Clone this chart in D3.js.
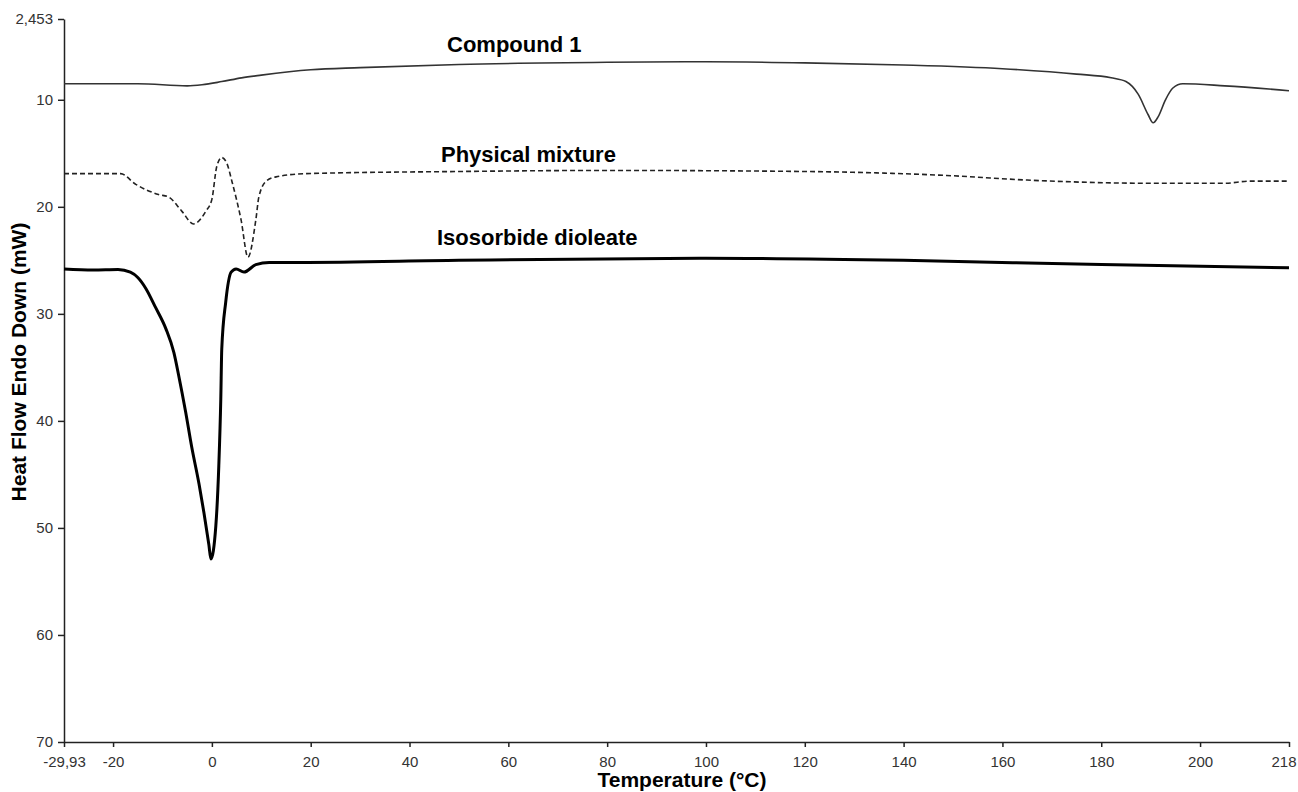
<!DOCTYPE html>
<html>
<head>
<meta charset="utf-8">
<script src="https://cdn.jsdelivr.net/npm/d3@7"></script>
<style>
  body { margin: 0; background: #fff; }
  .tick text { font-family: Arial, "Liberation Sans", sans-serif; fill: #333; }
  .title { font-family: Arial, "Liberation Sans", sans-serif; font-weight: bold; fill: #000; }
</style>
</head>
<body>
<div id="chart"></div>
<script>
// DSC traces, temperature (°C) vs heat flow (mW)
var compoundT = [-29.93, -15, -5, -2, 2, 6, 10, 20, 30, 50, 80, 100, 120, 140, 160, 175, 182, 185, 187.5, 189.5, 190.5, 191.5, 193, 194.5, 196.5, 205, 218];
var compoundV = [8.5, 8.5, 8.7, 8.6, 8.3, 7.95, 7.7, 7.2, 7.0, 6.7, 6.5, 6.45, 6.55, 6.75, 7.1, 7.6, 7.95, 8.3, 9.5, 11.4, 12.15, 11.6, 10.0, 8.9, 8.5, 8.7, 9.15];

var mixtureT = [-29.93, -18.5, -15.4, -10.8, -8.7, -6.1, -3.7, -1.2, 0, 1, 2, 3, 4.1, 5.9, 7.3, 8.9, 9.5, 11, 13, 19, 50, 80, 120, 150, 165, 190, 205, 210, 218];
var mixtureV = [16.9, 16.9, 17.9, 18.85, 19.1, 20.4, 21.6, 20.4, 19.3, 16.2, 15.4, 15.9, 17.7, 21.2, 24.7, 21.2, 19.1, 17.6, 17.2, 16.9, 16.7, 16.6, 16.7, 17.1, 17.5, 17.8, 17.8, 17.6, 17.6];

var dioleateT = [-29.93, -24, -19, -16.5, -15, -13.4, -11.4, -9.3, -7.7, -6.7, -5.3, -4.1, -2.6, -1.6, -0.6, -0.2, 0.8, 1.4, 1.8, 2.0, 2.8, 3.9, 4.9, 6.5, 8.9, 11.6, 17.6, 50, 100, 140, 180, 218];
var dioleateV = [25.8, 25.9, 25.85, 26.1, 26.6, 27.6, 29.4, 31.4, 33.6, 35.8, 39.2, 42.4, 45.9, 48.6, 51.6, 52.9, 49.8, 44.2, 38.0, 33.3, 28.9, 26.1, 25.8, 26.1, 25.4, 25.2, 25.2, 25.0, 24.8, 25.0, 25.4, 25.7];

var xTicks = [-29.93, -20, 0, 20, 40, 60, 80, 100, 120, 140, 160, 180, 200, 218];
var yTicks = [2.453, 10, 20, 30, 40, 50, 60, 70];

var seriesNames = ["Compound 1", "Physical mixture", "Isosorbide dioleate"];

var width = 1298, height = 792;

var svg = d3.select("#chart").append("svg")
    .attr("width", width)
    .attr("height", height);

var x = d3.scaleLinear().domain([-29.93, 218]).range([64, 1289]);
var y = d3.scaleLinear().domain([2.453, 70]).range([19, 742]);

var fmt = function(d) { return String(d).replace(".", ","); };

// x axis
svg.append("g")
    .attr("transform", "translate(0," + y(70) + ")")
    .call(d3.axisBottom(x).tickValues(xTicks).tickSize(5).tickSizeOuter(0).tickFormat(fmt))
    .call(function(g) {
      g.select(".domain").attr("stroke", "#222").attr("stroke-width", 1.5);
      g.selectAll(".tick line").attr("stroke", "#222").attr("stroke-width", 1.5);
      g.selectAll(".tick text").attr("font-size", 15).attr("dy", "0.95em").attr("y", 11);
      // keep the last label inside the page
      g.selectAll(".tick text").filter(function(d) { return d === 218; })
          .attr("text-anchor", "end").attr("dx", 7);
    });

// y axis
svg.append("g")
    .attr("transform", "translate(" + x(-29.93) + ",0)")
    .call(d3.axisLeft(y).tickValues(yTicks).tickSize(6).tickSizeOuter(0).tickFormat(fmt))
    .call(function(g) {
      g.select(".domain").attr("stroke", "#222").attr("stroke-width", 1.5);
      g.selectAll(".tick line").attr("stroke", "#222").attr("stroke-width", 1.5);
      g.selectAll(".tick text").attr("font-size", 15).attr("x", -11);
    });

var line = d3.line()
    .x(function(d) { return x(d[0]); })
    .y(function(d) { return y(d[1]); })
    .curve(d3.curveMonotoneX);

function pairs(ts, vs) { return ts.map(function(t, i) { return [t, vs[i]]; }); }

svg.append("path")
    .datum(pairs(compoundT, compoundV))
    .attr("fill", "none")
    .attr("stroke", "#333")
    .attr("stroke-width", 1.6)
    .attr("d", line);

svg.append("path")
    .datum(pairs(mixtureT, mixtureV))
    .attr("fill", "none")
    .attr("stroke", "#222")
    .attr("stroke-width", 1.6)
    .attr("stroke-dasharray", "5,3")
    .attr("d", line);

svg.append("path")
    .datum(pairs(dioleateT, dioleateV))
    .attr("fill", "none")
    .attr("stroke", "#000")
    .attr("stroke-width", 3)
    .attr("stroke-linejoin", "round")
    .attr("d", line);

// curve labels
var labelPos = [[447, 52], [441, 162], [437, 245]];
seriesNames.forEach(function(name, i) {
  svg.append("text")
      .attr("class", "title")
      .attr("x", labelPos[i][0])
      .attr("y", labelPos[i][1])
      .attr("font-size", 22)
      .text(name);
});

// axis titles
svg.append("text")
    .attr("class", "title")
    .attr("x", 682)
    .attr("y", 787)
    .attr("text-anchor", "middle")
    .attr("font-size", 21)
    .text("Temperature (°C)");

svg.append("text")
    .attr("class", "title")
    .attr("transform", "translate(26,362) rotate(-90)")
    .attr("text-anchor", "middle")
    .attr("font-size", 21)
    .text("Heat Flow Endo Down (mW)");
</script>
</body>
</html>
